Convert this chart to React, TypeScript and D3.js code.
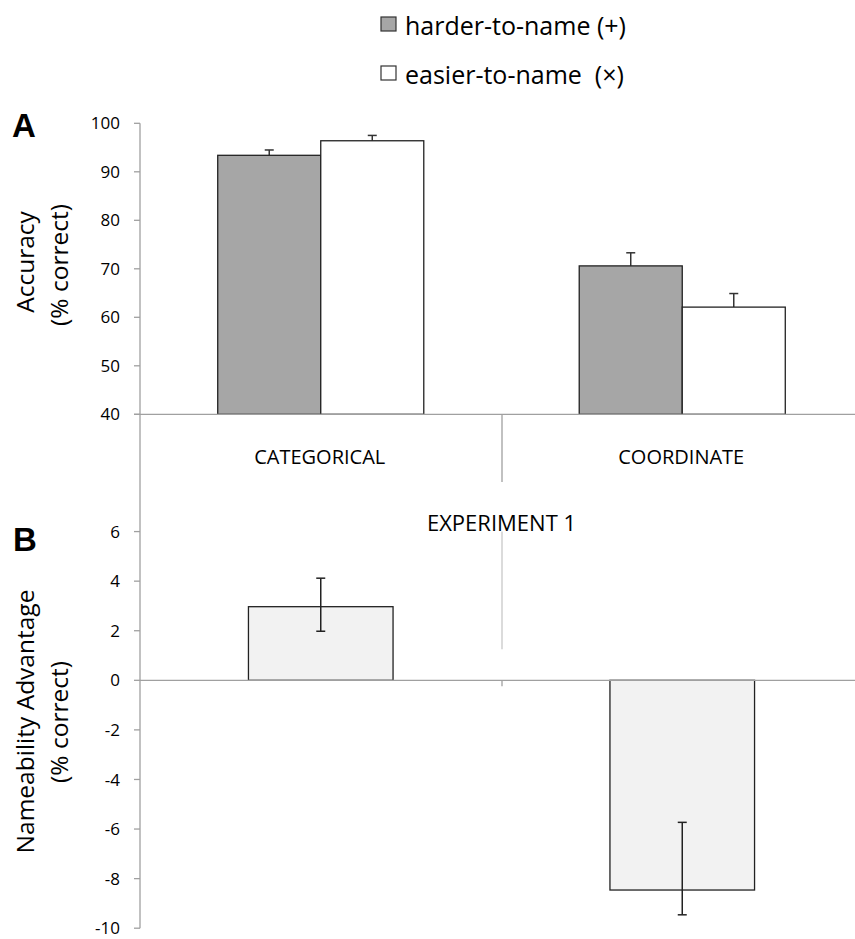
import * as d3 from "d3";

const categories = ["CATEGORICAL", "COORDINATE"];
const seriesNames = ["harder-to-name (+)", "easier-to-name  (×)"];
const harderValues = [93.4, 70.6];
const harderErr = [1.1, 2.7];
const easierValues = [96.4, 62.1];
const easierErr = [1.1, 2.8];
const advantageValues = [2.97, -8.46];
const advantagePlus = [1.15, 2.73];
const advantageMinus = [0.99, 1.0];
const ticksA = [40, 50, 60, 70, 80, 90, 100];
const ticksB = [-10, -8, -6, -4, -2, 0, 2, 4, 6];

const W = 855;
const H = 939;
const FONT = "'Open Sans', sans-serif";
const AXIS = "#a0a0a0";

const x = d3.scaleBand().domain(categories).range([140, 863]).padding(0);
const yA = d3.scaleLinear().domain([40, 100]).range([414.3, 123.3]);
const yB = d3.scaleLinear().domain([-10, 8]).range([928.2, 482]);

const center = (c: string) => (x(c) ?? 0) + x.bandwidth() / 2;
const barA = x.bandwidth() * 0.285;
const barB = x.bandwidth() * 0.4;

export default function App() {
  const xLeft = x.range()[0];
  const xMid = (x(categories[1]) ?? 0) + 0.5;
  return (
    <svg width={W} height={H} style={{ display: "block", position: "absolute", left: 0, top: 0 }} fontFamily={FONT}>
      <rect width={W} height={H} fill="#fff" />

      {/* legend */}
      {seriesNames.map((s, i) => (
        <g key={s}>
          <rect x={381} y={17 + i * 49} width={15} height={14} fill={i === 0 ? "#a6a6a6" : "#fff"} stroke="#333" strokeWidth={1.2} />
          <text x={405} y={35 + i * 48.5} fontSize={25} fill="#000" style={{ whiteSpace: "pre" }}>{s}</text>
        </g>
      ))}

      {/* panel letters */}
      <text x={12} y={137} fontFamily="'Liberation Sans', Arial, sans-serif" fontWeight="bold" fontSize={33}>A</text>
      <text x={13} y={551} fontFamily="'Liberation Sans', Arial, sans-serif" fontWeight="bold" fontSize={33}>B</text>

      {/* left axis line shared */}
      <line x1={xLeft} x2={xLeft} y1={yA(100)} y2={yB(-10)} stroke={AXIS} strokeWidth={1.3} />

      {/* panel A bars */}
      {categories.map((c, i) => {
        const cx = center(c);
        return (
          <g key={c}>
            <line x1={cx - barA / 2} x2={cx - barA / 2} y1={yA(harderValues[i])} y2={yA(harderValues[i] + harderErr[i])} stroke="#333" strokeWidth={1.5} />
            <line x1={cx - barA / 2 - 4.5} x2={cx - barA / 2 + 4.5} y1={yA(harderValues[i] + harderErr[i])} y2={yA(harderValues[i] + harderErr[i])} stroke="#333" strokeWidth={1.5} />
            <line x1={cx + barA / 2} x2={cx + barA / 2} y1={yA(easierValues[i])} y2={yA(easierValues[i] + easierErr[i])} stroke="#333" strokeWidth={1.5} />
            <line x1={cx + barA / 2 - 4.5} x2={cx + barA / 2 + 4.5} y1={yA(easierValues[i] + easierErr[i])} y2={yA(easierValues[i] + easierErr[i])} stroke="#333" strokeWidth={1.5} />
            <rect x={cx - barA} y={yA(harderValues[i])} width={barA} height={yA(40) - yA(harderValues[i])} fill="#a6a6a6" stroke="#222" strokeWidth={1.3} />
            <rect x={cx} y={yA(easierValues[i])} width={barA} height={yA(40) - yA(easierValues[i])} fill="#fff" stroke="#222" strokeWidth={1.3} />
            <text x={cx - 1} y={464} fontSize={20} textAnchor="middle" fill="#000">{c}</text>
          </g>
        );
      })}

      {/* panel A axis */}
      {ticksA.map((t) => (
        <g key={t}>
          <line x1={xLeft - 6} x2={xLeft} y1={yA(t)} y2={yA(t)} stroke={AXIS} strokeWidth={1.3} />
          <text x={xLeft - 20} y={yA(t)} dy="0.36em" fontSize={17} textAnchor="end" fill="#000">{t}</text>
        </g>
      ))}
      <line x1={xLeft - 6} x2={W} y1={yA(40)} y2={yA(40)} stroke={AXIS} strokeWidth={1.3} />
      <line x1={xMid} x2={xMid} y1={yA(40)} y2={yB(8)} stroke={AXIS} strokeWidth={1.3} />

      <text transform={`translate(34,262) rotate(-90)`} fontSize={24.5} textAnchor="middle">Accuracy</text>
      <text transform={`translate(68,265) rotate(-90)`} fontSize={24.5} textAnchor="middle">(% correct)</text>

      {/* panel B */}
      <text x={501.5} y={530.5} fontSize={22} textAnchor="middle">EXPERIMENT 1</text>
      <line x1={xMid} x2={xMid} y1={yB(6)} y2={yB(1.25)} stroke="#c8c8c8" strokeWidth={1.3} />

      {ticksB.map((t) => (
        <g key={t}>
          <line x1={xLeft - 6} x2={xLeft} y1={yB(t)} y2={yB(t)} stroke={AXIS} strokeWidth={1.3} />
          <text x={xLeft - 20} y={yB(t)} dy="0.36em" fontSize={17} textAnchor="end" fill="#000">{t}</text>
        </g>
      ))}

      {categories.map((c, i) => {
        const cx = center(c);
        const v = advantageValues[i];
        const top = Math.max(v, 0);
        const bottom = Math.min(v, 0);
        return (
          <g key={c}>
            <rect x={cx - barB / 2} y={yB(top)} width={barB} height={yB(bottom) - yB(top)} fill="#f2f2f2" stroke="#222" strokeWidth={1.3} />
            <line x1={cx} x2={cx} y1={yB(v + advantagePlus[i])} y2={yB(v - advantageMinus[i])} stroke="#222" strokeWidth={1.5} />
            <line x1={cx - 4.5} x2={cx + 4.5} y1={yB(v + advantagePlus[i])} y2={yB(v + advantagePlus[i])} stroke="#222" strokeWidth={1.5} />
            <line x1={cx - 4.5} x2={cx + 4.5} y1={yB(v - advantageMinus[i])} y2={yB(v - advantageMinus[i])} stroke="#222" strokeWidth={1.5} />
          </g>
        );
      })}
      <line x1={xLeft} x2={W} y1={yB(0)} y2={yB(0)} stroke={AXIS} strokeWidth={1.3} />
      <line x1={xMid} x2={xMid} y1={yB(0)} y2={yB(0) + 6} stroke={AXIS} strokeWidth={1.3} />

      <text transform={`translate(34,721.5) rotate(-90)`} fontSize={24.5} textAnchor="middle">Nameability Advantage</text>
      <text transform={`translate(68,722) rotate(-90)`} fontSize={24.5} textAnchor="middle">(% correct)</text>
    </svg>
  );
}
